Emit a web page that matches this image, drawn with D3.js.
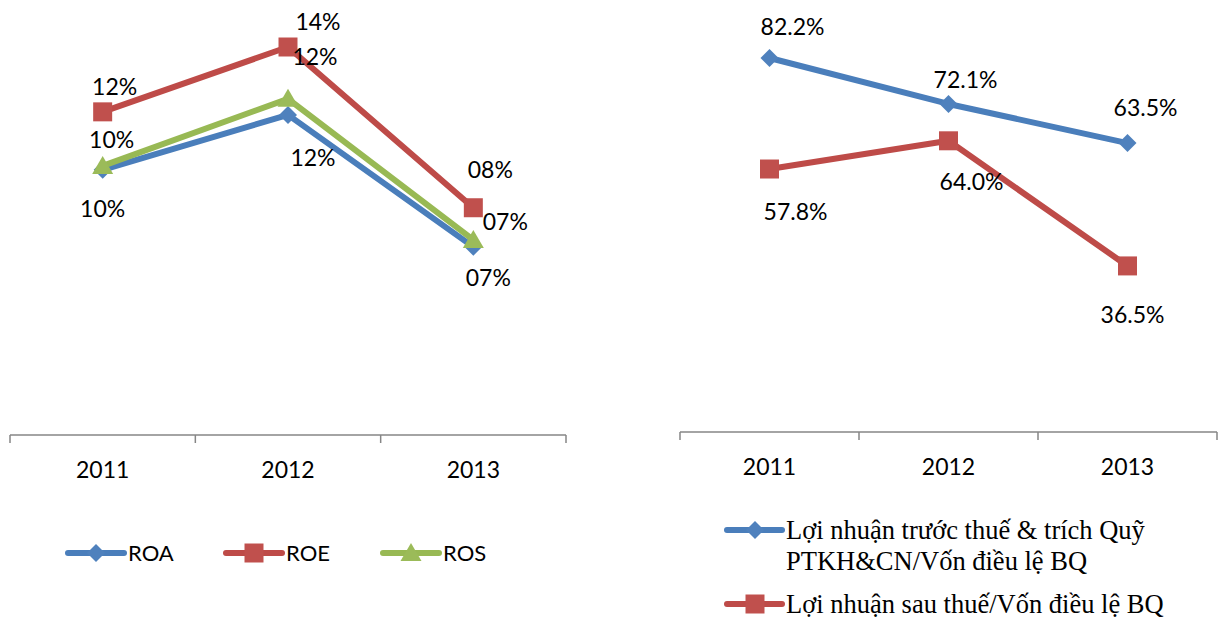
<!DOCTYPE html>
<html>
<head>
<meta charset="utf-8">
<script src="https://cdn.jsdelivr.net/npm/d3@7"></script>
<style>
  body { margin: 0; background: #fff; }
  svg text { font-family: Lato, "Open Sans", sans-serif; fill: #000; }
  .serif { font-family: "Liberation Serif", "Times New Roman", serif !important; }
</style>
</head>
<body>
<div class="content"></div>
<script>
const SVG_W = 1221;
const SVG_H = 620;

// ---- data ----
const years = ["2011", "2012", "2013"];

const roa = [0.0957, 0.1155, 0.0679];
const roe = [0.1166, 0.1400, 0.0820];
const ros = [0.0971, 0.1213, 0.0704];

const roaLabels = ["10%", "12%", "07%"];
const roeLabels = ["12%", "14%", "08%"];
const rosLabels = ["10%", "12%", "07%"];

const profitBeforeTax = [0.822, 0.721, 0.635];
const profitAfterTax = [0.578, 0.640, 0.365];

const pbtLabels = ["82.2%", "72.1%", "63.5%"];
const patLabels = ["57.8%", "64.0%", "36.5%"];

const legendLeft = ["ROA", "ROE", "ROS"];
const legendRight = [
  ["Lợi nhuận trước thuế & trích Quỹ", "PTKH&CN/Vốn điều lệ BQ"],
  ["Lợi nhuận sau thuế/Vốn điều lệ BQ"]
];

// label offsets (hand placed in the original)
const roaOff = [[0, 39], [25, 43], [15, 31]];
const roeOff = [[12, -25], [30, -25], [17, -38]];
const rosOff = [[9, -26], [27, -42], [32, -18]];
const pbtOff = [[23, -31], [17, -24], [18, -35]];
const patOff = [[26, 43], [23, 41], [5, 49]];

const BLUE = "#4A7EBB", BLUE_M = "#4F81BD";
const RED = "#BE4B48", RED_M = "#C0504D";
const GREEN = "#98B954", GREEN_M = "#9BBB59";
const FS = "23px";

// marker shapes
function marker(kind) {
  if (kind === "diamond") return "M0,-9L9,0L0,9L-9,0Z";
  if (kind === "square") return "M-9.5,-9.5H9.5V9.5H-9.5Z";
  return "M0,-10L10.5,8L-10.5,8Z";
}

const svg = d3.select(".content").append("svg")
  .attr("width", SVG_W).attr("height", SVG_H);

function drawChart(g, cfg) {
  let x = d3.scaleBand().domain(years).range(cfg.xr);
  let y = d3.scaleLinear().domain(cfg.yd).range(cfg.yr);

  // category axis
  let ax = g.append("g").attr("transform", "translate(0," + cfg.yr[0] + ")");
  ax.append("line").attr("x1", cfg.xr[0]).attr("x2", cfg.xr[1])
    .attr("stroke", "#868686").attr("stroke-width", 1.5);
  let edges = years.map(d => x(d)).concat([cfg.xr[1]]);
  ax.selectAll(".tk").data(edges).join("line")
    .attr("x1", d => d).attr("x2", d => d).attr("y1", 0).attr("y2", 8)
    .attr("stroke", "#868686").attr("stroke-width", 1.5);
  ax.selectAll(".lb").data(years).join("text")
    .attr("x", d => x(d) + x.bandwidth() / 2).attr("y", 35)
    .attr("dy", "0.35em").attr("text-anchor", "middle")
    .style("font-size", FS).text(d => d);

  let line = d3.line().x((d, i) => x(years[i]) + x.bandwidth() / 2).y(d => y(d));

  cfg.series.forEach(s => {
    g.append("path").datum(s.values).attr("d", line)
      .attr("fill", "none").attr("stroke", s.color).attr("stroke-width", 6)
      .attr("stroke-linejoin", "round").attr("stroke-linecap", "round");
  });
  cfg.series.forEach(s => {
    g.selectAll(null).data(s.values).join("path")
      .attr("d", marker(s.shape))
      .attr("transform", (d, i) => "translate(" + (x(years[i]) + x.bandwidth() / 2) + "," + y(d) + ")")
      .attr("fill", s.mcolor);
  });
  cfg.series.forEach(s => {
    g.selectAll(null).data(s.values).join("text")
      .attr("x", (d, i) => x(years[i]) + x.bandwidth() / 2 + s.off[i][0])
      .attr("y", (d, i) => y(d) + s.off[i][1])
      .attr("dy", "0.35em").attr("text-anchor", "middle")
      .style("font-size", FS).text((d, i) => s.labels[i]);
  });
}

// left chart
drawChart(svg.append("g"), {
  xr: [10, 566], yd: [0, 0.14], yr: [435, 47],
  series: [
    { values: roa, labels: roaLabels, off: roaOff, color: BLUE, mcolor: BLUE_M, shape: "diamond" },
    { values: ros, labels: rosLabels, off: rosOff, color: GREEN, mcolor: GREEN_M, shape: "triangle" },
    { values: roe, labels: roeLabels, off: roeOff, color: RED, mcolor: RED_M, shape: "square" }
  ]
});

// right chart
drawChart(svg.append("g"), {
  xr: [680, 1217], yd: [0, 0.9], yr: [432, 22.5],
  series: [
    { values: profitBeforeTax, labels: pbtLabels, off: pbtOff, color: BLUE, mcolor: BLUE_M, shape: "diamond" },
    { values: profitAfterTax, labels: patLabels, off: patOff, color: RED, mcolor: RED_M, shape: "square" }
  ]
});

// left legend
const legL = [
  { x: 68, color: BLUE, mcolor: BLUE_M, shape: "diamond" },
  { x: 226, color: RED, mcolor: RED_M, shape: "square" },
  { x: 383, color: GREEN, mcolor: GREEN_M, shape: "triangle" }
];
let lg = svg.append("g").attr("transform", "translate(0,553)");
legL.forEach((d, i) => {
  lg.append("line").attr("x1", d.x).attr("x2", d.x + 56).attr("stroke", d.color)
    .attr("stroke-width", 6).attr("stroke-linecap", "round");
  lg.append("path").attr("d", marker(d.shape)).attr("fill", d.mcolor)
    .attr("transform", "translate(" + (d.x + 28) + ",0)");
  lg.append("text").attr("x", d.x + 60).attr("dy", "0.35em")
    .style("font-size", "22px").text(legendLeft[i]);
});

// right legend
const legR = [
  { y: 530, color: BLUE, mcolor: BLUE_M, shape: "diamond" },
  { y: 604, color: RED, mcolor: RED_M, shape: "square" }
];
legR.forEach((d, i) => {
  let rg = svg.append("g").attr("transform", "translate(0," + d.y + ")");
  rg.append("line").attr("x1", 727).attr("x2", 782).attr("stroke", d.color)
    .attr("stroke-width", 6).attr("stroke-linecap", "round");
  rg.append("path").attr("d", marker(d.shape)).attr("fill", d.mcolor)
    .attr("transform", "translate(755,0)");
  legendRight[i].forEach((t, j) => {
    rg.append("text").attr("class", "serif").attr("x", 786).attr("y", 9 + j * 31)
      .style("font-size", "26.5px").text(t);
  });
});
</script>
</body>
</html>
